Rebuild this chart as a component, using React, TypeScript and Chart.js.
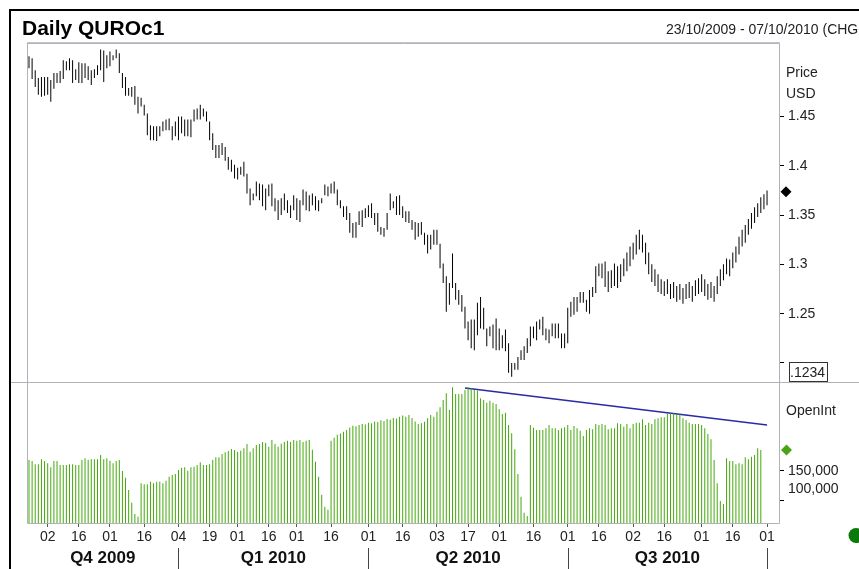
import React, { useEffect, useRef } from 'react';
import { Chart, registerables } from 'chart.js';
Chart.register(...registerables);

// ---- calendar (trading days) ----
const holidays = ['2009-11-26', '2009-12-25', '2010-01-01', '2010-01-18', '2010-02-15', '2010-05-31', '2010-07-05', '2010-09-06'];
function tradingDays(): string[] {
  const out: string[] = [];
  const d = new Date(Date.UTC(2009, 9, 23));
  const end = Date.UTC(2010, 9, 7);
  while (d.getTime() <= end) {
    const wd = d.getUTCDay();
    const s = d.toISOString().slice(0, 10);
    if (wd !== 0 && wd !== 6 && !holidays.includes(s)) out.push(s);
    d.setUTCDate(d.getUTCDate() + 1);
  }
  return out;
}
const dates = tradingDays();

const tickDates = ['2009-11-02', '2009-11-16', '2009-12-01', '2009-12-16', '2010-01-04', '2010-01-19', '2010-02-01', '2010-02-16', '2010-03-01', '2010-03-16', '2010-04-01', '2010-04-16', '2010-05-03', '2010-05-17', '2010-06-01', '2010-06-16', '2010-07-01', '2010-07-16', '2010-08-02', '2010-08-16', '2010-09-01', '2010-09-16', '2010-10-01'];
const tickLabels = ['02', '16', '01', '16', '04', '19', '01', '16', '01', '16', '01', '16', '03', '17', '01', '16', '01', '16', '02', '16', '01', '16', '01'];
const quarterLabels = ['Q4 2009', 'Q1 2010', 'Q2 2010', 'Q3 2010'];
const quarterEnds = ['2010-01-04', '2010-04-01', '2010-07-01', '2010-10-01'];

const priceTicks = [1.2, 1.25, 1.3, 1.35, 1.4, 1.45];
const oiTicks = [100000, 150000];

// ---- series ----
const priceHigh = [
  1.511, 1.509, 1.497, 1.489, 1.490, 1.490, 1.490, 1.487, 1.494, 1.494,
  1.496, 1.507, 1.506, 1.509, 1.507, 1.498, 1.505, 1.504, 1.504, 1.501,
  1.497, 1.498, 1.502, 1.518, 1.517, 1.512, 1.516, 1.512, 1.518, 1.514,
  1.494, 1.490, 1.479, 1.480, 1.481, 1.470, 1.469, 1.462, 1.453, 1.441,
  1.440, 1.440, 1.440, 1.445, 1.447, 1.448, 1.440, 1.445, 1.450, 1.450,
  1.447, 1.447, 1.447, 1.457, 1.458, 1.462, 1.458, 1.455, 1.445, 1.433,
  1.421, 1.421, 1.423, 1.419, 1.409, 1.406, 1.401, 1.398, 1.399, 1.404,
  1.392, 1.377, 1.372, 1.384, 1.382, 1.381, 1.377, 1.381, 1.382, 1.367,
  1.365, 1.367, 1.372, 1.365, 1.360, 1.370, 1.367, 1.365, 1.376, 1.374,
  1.370, 1.372, 1.369, 1.365, 1.367, 1.381, 1.379, 1.382, 1.384, 1.376,
  1.365, 1.359, 1.359, 1.352, 1.342, 1.343, 1.354, 1.355, 1.357, 1.360,
  1.362, 1.352, 1.352, 1.338, 1.337, 1.352, 1.372, 1.364, 1.369, 1.370,
  1.359, 1.354, 1.354, 1.345, 1.343, 1.342, 1.343, 1.332, 1.330, 1.330,
  1.335, 1.335, 1.321, 1.301, 1.288, 1.281, 1.311, 1.281, 1.274, 1.269,
  1.257, 1.242, 1.244, 1.244, 1.261, 1.267, 1.256, 1.235, 1.237, 1.239,
  1.245, 1.235, 1.228, 1.234, 1.220, 1.200, 1.200, 1.206, 1.213, 1.217,
  1.225, 1.237, 1.237, 1.242, 1.244, 1.247, 1.235, 1.234, 1.240, 1.240,
  1.240, 1.230, 1.230, 1.256, 1.262, 1.267, 1.267, 1.272, 1.272, 1.264,
  1.274, 1.277, 1.298, 1.301, 1.301, 1.303, 1.293, 1.294, 1.301, 1.298,
  1.300, 1.306, 1.312, 1.318, 1.322, 1.330, 1.335, 1.330, 1.322, 1.312,
  1.300, 1.295, 1.290, 1.285, 1.283, 1.285, 1.280, 1.282, 1.278, 1.280,
  1.276, 1.280, 1.282, 1.278, 1.284, 1.286, 1.290, 1.285, 1.280, 1.282,
  1.278, 1.288, 1.295, 1.300, 1.306, 1.305, 1.312, 1.318, 1.328, 1.335,
  1.340, 1.346, 1.352, 1.358, 1.362, 1.368, 1.371, 1.375,
];
const priceLow = [
  1.499, 1.488, 1.480, 1.472, 1.470, 1.471, 1.472, 1.465, 1.478, 1.484,
  1.484, 1.488, 1.497, 1.497, 1.484, 1.487, 1.484, 1.484, 1.489, 1.487,
  1.482, 1.489, 1.492, 1.497, 1.485, 1.499, 1.501, 1.507, 1.509, 1.494,
  1.479, 1.471, 1.471, 1.470, 1.462, 1.453, 1.460, 1.451, 1.431, 1.426,
  1.426, 1.425, 1.430, 1.435, 1.436, 1.436, 1.426, 1.430, 1.426, 1.433,
  1.430, 1.430, 1.429, 1.445, 1.447, 1.447, 1.450, 1.445, 1.426, 1.416,
  1.408, 1.408, 1.411, 1.405, 1.396, 1.394, 1.387, 1.386, 1.391, 1.389,
  1.372, 1.360, 1.365, 1.369, 1.365, 1.359, 1.355, 1.369, 1.359, 1.354,
  1.345, 1.350, 1.355, 1.352, 1.347, 1.355, 1.345, 1.343, 1.360, 1.355,
  1.354, 1.360, 1.355, 1.354, 1.362, 1.370, 1.369, 1.372, 1.372, 1.360,
  1.357, 1.348, 1.345, 1.332, 1.327, 1.327, 1.340, 1.338, 1.347, 1.348,
  1.347, 1.340, 1.333, 1.330, 1.328, 1.335, 1.355, 1.357, 1.350, 1.350,
  1.347, 1.343, 1.342, 1.335, 1.325, 1.328, 1.330, 1.320, 1.311, 1.315,
  1.320, 1.320, 1.296, 1.281, 1.252, 1.259, 1.276, 1.264, 1.259, 1.252,
  1.235, 1.223, 1.215, 1.213, 1.228, 1.235, 1.234, 1.217, 1.227, 1.215,
  1.213, 1.213, 1.215, 1.212, 1.190, 1.186, 1.193, 1.193, 1.203, 1.203,
  1.210, 1.217, 1.225, 1.223, 1.234, 1.228, 1.223, 1.220, 1.227, 1.225,
  1.225, 1.215, 1.215, 1.220, 1.247, 1.249, 1.252, 1.261, 1.261, 1.252,
  1.250, 1.267, 1.271, 1.288, 1.286, 1.277, 1.272, 1.276, 1.278, 1.276,
  1.282, 1.288, 1.293, 1.298, 1.305, 1.310, 1.315, 1.312, 1.300, 1.290,
  1.282, 1.278, 1.272, 1.270, 1.268, 1.270, 1.265, 1.266, 1.262, 1.264,
  1.260, 1.265, 1.266, 1.262, 1.268, 1.270, 1.272, 1.268, 1.264, 1.266,
  1.262, 1.270, 1.278, 1.284, 1.290, 1.288, 1.296, 1.302, 1.310, 1.318,
  1.322, 1.330, 1.336, 1.342, 1.348, 1.352, 1.356, 1.360,
];
const priceLastClose = 1.3737;

const openInt = [
  167800, 166200, 160600, 160600, 168900, 166200, 162300, 155600, 166200, 166200,
  159500, 159500, 159500, 160600, 160600, 159500, 159500, 167800, 170600, 167800,
  168900, 168900, 168900, 176200, 168900, 170600, 166700, 162300, 166200, 167800,
  149500, 138400, 117800, 96700, 77800, 73400, 128900, 127300, 127300, 131700,
  128900, 131700, 131700, 128900, 133400, 140000, 142800, 144500, 151200, 155000,
  155600, 150000, 155600, 156700, 159500, 163900, 159500, 159500, 160600, 167800,
  172300, 172300, 177800, 180600, 182800, 186200, 184500, 181700, 183400, 187300,
  194500, 181700, 187300, 192800, 194500, 197800, 196700, 190000, 201200, 194500,
  190000, 195000, 198000, 200000, 198000, 201000, 200000, 201000, 198000, 200000,
  201000, 185000, 165000, 140000, 110000, 90000, 85000, 200000, 205000, 210000,
  212000, 215000, 218000, 222000, 225000, 224000, 226000, 228000, 227000, 230000,
  229000, 232000, 231000, 234000, 233000, 236000, 235000, 238000, 237000, 240000,
  242000, 240000, 243000, 238000, 232000, 228000, 228900, 231700, 237300, 242800,
  240100, 248400, 255600, 267800, 278900, 251200, 288900, 277800, 277800, 277800,
  284500, 288900, 287300, 284500, 283400, 270600, 267800, 263400, 266700, 263400,
  261200, 252300, 244500, 246700, 226200, 212300, 185600, 144500, 106700, 80000,
  74500, 226200, 221700, 217800, 217800, 217800, 220600, 226200, 220600, 220600,
  217800, 220600, 222300, 226200, 217800, 224500, 220600, 216700, 207800, 217800,
  220600, 218900, 227800, 226200, 227800, 226200, 218900, 220600, 220600, 228900,
  227800, 223400, 227800, 220600, 227800, 230000, 230000, 235600, 226200, 230000,
  227800, 235600, 237300, 238900, 238900, 245600, 245600, 245600, 242800, 243900,
  237300, 234500, 230000, 227800, 227800, 227800, 226200, 220600, 211200, 202300,
  167800, 128900, 99500, 94500, 170600, 166200, 166200, 160600, 162300, 160600,
  172300, 168900, 173400, 176200, 187300, 184500,
];
const trendDates = ['2010-05-14', '2010-10-01'];
const trendValues = [287800, 226300];

const FONT = "'Liberation Sans', Arial, sans-serif";

const decor = {
  id: 'decor',
  beforeDraw(chart: any) {
    const c = chart.ctx;
    c.save();
    c.fillStyle = '#ffffff';
    c.fillRect(0, 0, chart.width, chart.height);
    c.restore();
  },
  afterDraw(chart: any) {
    const c = chart.ctx;
    const xs = chart.scales.x;
    const ys = chart.scales.y;
    const y2 = chart.scales.y2;
    const area = chart.chartArea;
    c.save();
    // outer black frame
    c.fillStyle = '#000';
    c.fillRect(9, 9, 850, 2);
    c.fillRect(9, 9, 2, 560);
    // plot frame
    c.strokeStyle = '#b2b2ba';
    c.lineWidth = 1;
    c.beginPath();
    c.moveTo(area.left + 0.5, area.top);
    c.lineTo(area.left + 0.5, area.bottom + 0.5);
    c.lineTo(area.right + 0.5, area.bottom + 0.5);
    c.lineTo(area.right + 0.5, area.top - 0.5);
    c.lineTo(area.left, area.top - 0.5);
    c.stroke();
    c.fillStyle = '#c4c4cc';
    c.fillRect(area.left, area.top - 2, area.right - area.left + 1, 1);
    // panel separator
    const sep = Math.round(ys.bottom) + 0.5;
    c.beginPath();
    c.moveTo(11, sep);
    c.lineTo(859, sep);
    c.stroke();

    // titles
    c.fillStyle = '#000';
    c.textAlign = 'left';
    c.textBaseline = 'alphabetic';
    c.font = `bold 21px ${FONT}`;
    c.fillText('Daily QUROc1', 22, 34.5);
    c.font = `14px ${FONT}`;
    c.fillStyle = '#222';
    c.fillText('23/10/2009 - 07/10/2010 (CHGO)', 666, 34);

    // axis captions
    c.fillText('Price', 786, 76.5);
    c.fillText('USD', 786, 98);
    c.fillText('OpenInt', 786, 414.5);

    // value box
    c.strokeStyle = '#333';
    c.strokeRect(789.5, 362.5, 38, 19);
    c.fillStyle = '#222';
    c.fillText('.1234', 790, 377);

    // last price marker
    const py = ys.getPixelForValue(priceLastClose);
    c.fillStyle = '#000';
    c.beginPath();
    c.moveTo(786, py - 5.5);
    c.lineTo(791.5, py);
    c.lineTo(786, py + 5.5);
    c.lineTo(780.5, py);
    c.closePath();
    c.fill();
    // last OI marker
    const oy = y2.getPixelForValue(openInt[openInt.length - 1]);
    c.fillStyle = '#4aa41a';
    c.beginPath();
    c.moveTo(786.5, oy - 5.5);
    c.lineTo(792, oy);
    c.lineTo(786.5, oy + 5.5);
    c.lineTo(781, oy);
    c.closePath();
    c.fill();
    // status dot
    c.fillStyle = '#0a7a0a';
    c.beginPath();
    c.arc(856, 535.5, 7.5, 0, Math.PI * 2);
    c.fill();

    // quarter labels
    c.font = `bold 17px ${FONT}`;
    c.fillStyle = '#111';
    c.textAlign = 'center';
    let prev = area.left;
    quarterEnds.forEach((d, i) => {
      const px = xs.getPixelForValue(dates.indexOf(d));
      c.fillText(quarterLabels[i], (prev + px) / 2, 563);
      c.strokeStyle = '#444';
      c.beginPath();
      c.moveTo(Math.round(px) + 0.5, 548);
      c.lineTo(Math.round(px) + 0.5, 569);
      c.stroke();
      prev = px;
    });
    c.restore();
  },
};

export default function App() {
  const ref = useRef<HTMLCanvasElement>(null);
  useEffect(() => {
    if (!ref.current) return;
    const tickIdx = tickDates.map((d) => dates.indexOf(d));
    const labelFor: Record<number, string> = {};
    tickIdx.forEach((v, i) => (labelFor[v] = tickLabels[i]));
    const chart = new Chart(ref.current, {
      type: 'bar',
      data: {
        datasets: [
          {
            type: 'bar',
            data: priceHigh.map((h, i) => ({ x: i, y: [priceLow[i], h] })),
            yAxisID: 'y',
            backgroundColor: '#000',
            barThickness: 1,
            inflateAmount: 0,
            grouped: false,
          } as any,
          {
            type: 'bar',
            data: openInt.map((v, i) => ({ x: i, y: v })),
            yAxisID: 'y2',
            backgroundColor: '#44a80c',
            barThickness: 1,
            inflateAmount: 0,
            grouped: false,
          } as any,
          {
            type: 'line',
            data: trendDates.map((d, i) => ({ x: dates.indexOf(d), y: trendValues[i] })),
            yAxisID: 'y2',
            borderColor: '#2a2aa4',
            borderWidth: 1.6,
            pointRadius: 0,
          } as any,
        ],
      },
      options: {
        animation: false,
        responsive: false,
        maintainAspectRatio: false,
        events: [],
        layout: { padding: { left: 27, top: 44, right: 0, bottom: 0 } },
        plugins: { legend: { display: false }, tooltip: { enabled: false } },
        scales: {
          x: {
            type: 'linear',
            position: 'bottom',
            min: -0.64,
            max: 240.84,
            offset: false,
            afterBuildTicks: (s: any) => {
              s.ticks = tickIdx.map((v) => ({ value: v }));
            },
            afterFit: (s: any) => {
              s.height = 46;
            },
            ticks: {
              autoSkip: false,
              maxRotation: 0,
              padding: 2,
              color: '#222',
              font: { family: FONT, size: 14 },
              callback: (v: any) => labelFor[v] ?? '',
            },
            grid: { drawOnChartArea: false, drawTicks: true, tickLength: 4, tickColor: '#555', offset: false },
            border: { display: false },
          },
          y: {
            type: 'linear',
            position: 'right',
            stack: 'panes',
            stackWeight: 338,
            min: 1.1807,
            max: 1.5235,
            afterBuildTicks: (s: any) => {
              s.ticks = priceTicks.map((v) => ({ value: v }));
            },
            afterFit: (s: any) => {
              s.width = 80;
            },
            ticks: {
              padding: 4,
              color: '#222',
              font: { family: FONT, size: 14 },
              callback: (v: any) => (v === 1.2 ? '' : String(v)),
            },
            grid: { drawOnChartArea: false, drawTicks: true, tickLength: 5, tickColor: '#000' },
            border: { display: false },
          },
          y2: {
            type: 'linear',
            position: 'right',
            stack: 'panes',
            stackWeight: 141,
            min: 62833,
            max: 297833,
            afterBuildTicks: (s: any) => {
              s.ticks = oiTicks.map((v) => ({ value: v }));
            },
            afterFit: (s: any) => {
              s.width = 80;
            },
            ticks: {
              padding: 4,
              color: '#222',
              font: { family: FONT, size: 14, lineHeight: 1.7 },
              callback: (v: any) => (v === 100000 ? ['100,000', ''] : '150,000'),
            },
            grid: { drawOnChartArea: false, drawTicks: true, tickLength: 5, tickColor: '#000' },
            border: { display: false },
          },
        },
      } as any,
      plugins: [decor],
    });
    return () => chart.destroy();
  }, []);
  return (
    <div style={{ position: 'absolute', left: 0, top: 0, width: 859, height: 569 }}>
      <canvas ref={ref} width={859} height={569} style={{ display: 'block' }} />
    </div>
  );
}
